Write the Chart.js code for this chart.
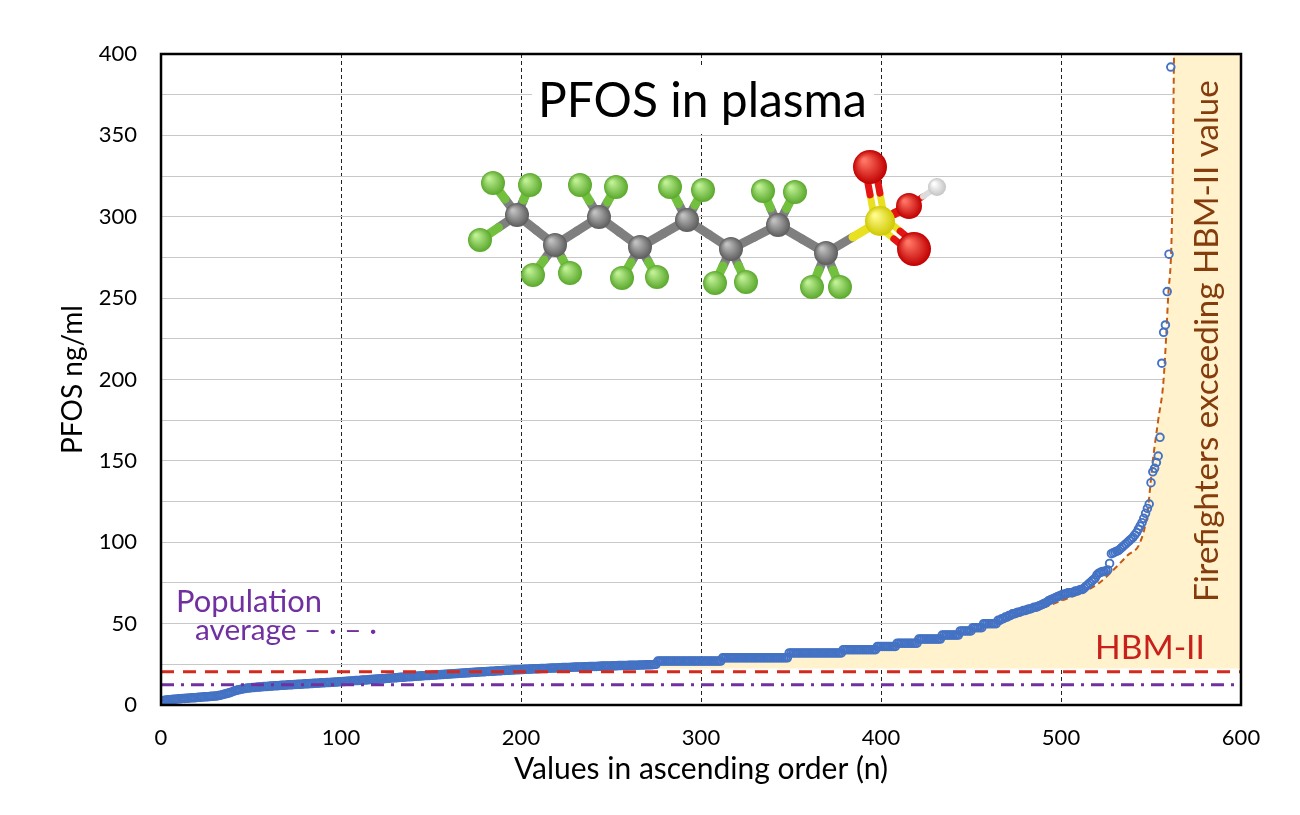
<!DOCTYPE html>
<html>
<head>
<meta charset="utf-8">
<title>PFOS in plasma</title>
<script src="https://cdn.jsdelivr.net/npm/chart.js@4.4.1/dist/chart.umd.min.js"></script>
<style>
  body { margin: 0; background: #fff; }
  #wrap { width: 1300px; height: 815px; }
</style>
</head>
<body>
<div id="wrap"><canvas id="chart"></canvas></div>
<script>
// PFOS values (ng/ml), sorted ascending, one per firefighter (rank = index)
const pfos = [
  1.5, 2.6, 2.9, 3.1, 3.2, 3.3, 3.4, 3.5, 3.6, 3.7, 3.8,
  3.9, 4.0, 4.0, 4.1, 4.2, 4.3, 4.4, 4.4, 4.5, 4.6,
  4.7, 4.8, 4.9, 5.0, 5.0, 5.1, 5.2, 5.3, 5.4, 5.5,
  5.6, 5.8, 6.0, 6.3, 6.6, 6.9, 7.2, 7.5,
  7.9, 8.3, 8.7, 9.0, 9.3, 9.6, 9.8, 10.0, 10.2, 10.4,
  10.5, 10.6, 10.7, 10.8, 10.9, 11.0, 11.1, 11.2, 11.3, 11.3,
  11.4, 11.5, 11.6, 11.7, 11.8, 11.9, 11.9, 12.0, 12.1, 12.2,
  12.2, 12.3, 12.4, 12.4, 12.5, 12.6, 12.6, 12.7, 12.8, 12.8,
  12.9, 13.0, 13.0, 13.1, 13.2, 13.2, 13.3, 13.4, 13.4, 13.5,
  13.6, 13.6, 13.7, 13.8, 13.8, 13.9, 14.0, 14.0, 14.1, 14.2,
  14.3, 14.3, 14.4, 14.5, 14.6, 14.6, 14.7, 14.8, 14.9, 15.0,
  15.0, 15.1, 15.2, 15.3, 15.4, 15.4, 15.5, 15.6, 15.7, 15.8,
  15.8, 15.9, 16.0, 16.1, 16.2, 16.2, 16.3, 16.4, 16.5, 16.6,
  16.6, 16.7, 16.8, 16.9, 17.0, 17.0, 17.1, 17.2, 17.3, 17.4,
  17.4, 17.5, 17.6, 17.7, 17.8, 17.8, 17.9, 18.0, 18.1, 18.1,
  18.2, 18.3, 18.3, 18.4, 18.5, 18.6, 18.6, 18.7, 18.8, 18.9,
  18.9, 19.0, 19.1, 19.2, 19.2, 19.3, 19.4, 19.5, 19.5, 19.6,
  19.7, 19.8, 19.8, 19.9, 20.0, 20.1, 20.1, 20.2, 20.3, 20.4,
  20.4, 20.5, 20.6, 20.6, 20.7, 20.8, 20.8, 20.9, 21.0, 21.0,
  21.1, 21.2, 21.2, 21.3, 21.4, 21.4, 21.5, 21.5, 21.6, 21.7,
  21.7, 21.8, 21.8, 21.9, 22.0, 22.0, 22.1, 22.1, 22.2, 22.2,
  22.3, 22.3, 22.4, 22.4, 22.5, 22.5, 22.6, 22.6, 22.7, 22.7,
  22.8, 22.8, 22.9, 22.9, 23.0, 23.0, 23.0, 23.1, 23.1, 23.2,
  23.2, 23.3, 23.3, 23.3, 23.4, 23.4, 23.5, 23.5, 23.5, 23.6,
  23.6, 23.7, 23.7, 23.7, 23.8, 23.8, 23.9, 23.9, 23.9, 24.0,
  24.0, 24.0, 24.1, 24.1, 24.1, 24.2, 24.2, 24.2, 24.3, 24.3,
  24.3, 24.4, 24.4, 24.4, 24.5, 24.5, 24.5, 24.6, 24.6, 24.6,
  24.7, 24.7, 24.7, 24.8, 24.8, 24.9, 25.0,
  27, 27, 27, 27, 27, 27, 27, 27, 27, 27, 27, 27,
  27, 27, 27, 27, 27, 27, 27, 27, 27, 27, 27, 27,
  27, 27, 27, 27, 27, 27, 27, 27, 27, 27, 27, 27,
  29, 29, 29, 29, 29, 29, 29, 29, 29, 29, 29, 29, 29,
  29, 29, 29, 29, 29, 29, 29, 29, 29, 29, 29, 29, 29,
  29, 29, 29, 29, 29, 29, 29, 29, 29, 29, 29,
  32, 32, 32, 32, 32, 32, 32, 32, 32, 32,
  32, 32, 32, 32, 32, 32, 32, 32, 32, 32,
  32, 32, 32, 32, 32, 32, 32, 32, 32, 32,
  34, 34, 34, 34, 34, 34, 34, 34, 34, 34,
  34, 34, 34, 34, 34, 34, 34, 34, 34,
  36, 36, 36, 36, 36, 36, 36, 36, 36, 36, 36,
  38, 38, 38, 38, 38, 38, 38, 38, 38, 38, 38, 38,
  40.5, 40.5, 40.5, 40.5, 40.5, 40.5, 40.5, 40.5, 40.5, 40.5, 40.5, 40.5, 40.5,
  43, 43, 43, 43, 43, 43, 43, 43, 43, 43,
  45.5, 45.5, 45.5, 45.5, 45.5, 45.5, 45.5,
  47.5, 47.5, 47.5, 47.5, 47.5, 47.5,
  50, 50, 50, 50, 50, 50, 50, 50,
  52, 52, 53, 53, 54, 54, 55, 55, 56, 56, 56.5,
  57, 57, 57.5, 58, 58, 58.5, 59, 59, 59.5, 60, 60, 60.5, 61, 61.5, 62, 62.5, 63,
  64, 64.5, 65, 65.5, 66, 66.5, 67, 67.5,
  68, 68, 68.5, 69, 69, 69, 69.5, 70, 70, 70.5, 71, 71,
  72, 73, 74, 75, 76, 77, 78, 80,
  81, 81.5, 82, 82, 82.5, 83, 87,
  93, 93.5, 94, 94.5, 95, 96, 97,
  98, 99, 100, 101, 102, 103, 104.5, 106, 108, 110, 112, 114.7, 117.8, 120.8, 123.5,
  136.6, 143.3, 145.4, 149, 153, 164.5, 210, 229, 233.5, 254, 277, 392
];

// fitted trend curve (orange dashed)
const trendX = [0, 50, 100, 150, 200, 250, 275, 300, 350, 400, 450, 480, 500, 520, 530, 537, 544, 548, 551, 554, 557, 559.5, 561.7, 562.8];
const trendY = [3, 10, 14, 18, 21, 24, 25, 27, 31, 35, 45, 56, 64, 74, 84, 92, 100, 118, 150, 175, 200, 250, 300, 400];

// reference levels (ng/ml)
const hbm2 = 20.5;
const popAverage = 12.5;

const xTicks = [0, 100, 200, 300, 400, 500, 600];
const yTicks = [0, 50, 100, 150, 200, 250, 300, 350, 400];

const FONT = 'Lato';

const pfosPoints = pfos.map((v, i) => ({ x: i, y: v }));
const trendPoints = trendX.map((x, i) => ({ x: x, y: trendY[i] }));
// shaded zone: above HBM-II, right of the trend curve
const zonePoints = trendPoints.filter(p => p.x >= 275).concat([{ x: 600, y: 400 }]);

// ---- molecule (decoration), canvas pixels ----
const atoms = {
  C1: ['C', 517, 215], C2: ['C', 555, 245], C3: ['C', 599, 217], C4: ['C', 640, 247],
  C5: ['C', 687, 220], C6: ['C', 731, 249], C7: ['C', 778, 225], C8: ['C', 826, 253],
  S: ['S', 880, 221], O1: ['O', 870, 167], O2: ['O', 914, 249], O3: ['O', 909, 206], H: ['H', 937, 187],
  F1: ['F', 493, 183], F2: ['F', 530, 185], F3: ['F', 480, 240],
  F4: ['F', 533, 275], F5: ['F', 570, 273],
  F6: ['F', 580, 185], F7: ['F', 616, 187],
  F8: ['F', 622, 278], F9: ['F', 657, 277],
  F10: ['F', 670, 187], F11: ['F', 703, 190],
  F12: ['F', 715, 283], F13: ['F', 746, 282],
  F14: ['F', 763, 191], F15: ['F', 795, 192],
  F16: ['F', 812, 287], F17: ['F', 840, 287]
};
const bonds = [
  ['C1', 'C2'], ['C2', 'C3'], ['C3', 'C4'], ['C4', 'C5'], ['C5', 'C6'], ['C6', 'C7'], ['C7', 'C8'], ['C8', 'S'],
  ['C1', 'F1'], ['C1', 'F2'], ['C1', 'F3'], ['C2', 'F4'], ['C2', 'F5'], ['C3', 'F6'], ['C3', 'F7'],
  ['C4', 'F8'], ['C4', 'F9'], ['C5', 'F10'], ['C5', 'F11'], ['C6', 'F12'], ['C6', 'F13'],
  ['C7', 'F14'], ['C7', 'F15'], ['C8', 'F16'], ['C8', 'F17'],
  ['S', 'O1', 2], ['S', 'O2', 2], ['S', 'O3'], ['O3', 'H']
];
const atomStyle = {
  C: { r: 12, dark: '#5c5c5c', light: '#c0c0c0', stick: '#7f7f7f' },
  F: { r: 12, dark: '#5aa82c', light: '#bff094', stick: '#72c03e' },
  S: { r: 15, dark: '#d0c800', light: '#fffb8a', stick: '#e8e020' },
  O: { r: 17, dark: '#c00000', light: '#ff7464', stick: '#e41414' },
  H: { r: 9, dark: '#c4c4c4', light: '#ffffff', stick: '#dcdcdc' }
};

function drawStick(ctx, a, b, off, width) {
  const [ta, xa, ya] = atoms[a];
  const [tb, xb, yb] = atoms[b];
  const len = Math.hypot(xb - xa, yb - ya);
  const nx = -(yb - ya) / len * off;
  const ny = (xb - xa) / len * off;
  const mx = (xa + xb) / 2, my = (ya + yb) / 2;
  ctx.lineWidth = width;
  ctx.lineCap = 'round';
  ctx.strokeStyle = atomStyle[ta].stick;
  ctx.beginPath(); ctx.moveTo(xa + nx, ya + ny); ctx.lineTo(mx + nx, my + ny); ctx.stroke();
  ctx.strokeStyle = atomStyle[tb].stick;
  ctx.beginPath(); ctx.moveTo(mx + nx, my + ny); ctx.lineTo(xb + nx, yb + ny); ctx.stroke();
}

function drawBall(ctx, key) {
  const [t, x, y] = atoms[key];
  const st = atomStyle[t];
  const r = key === 'O3' ? 13 : st.r;
  const g = ctx.createRadialGradient(x - r * 0.35, y - r * 0.4, r * 0.1, x, y, r);
  g.addColorStop(0, st.light);
  g.addColorStop(1, st.dark);
  ctx.fillStyle = g;
  ctx.beginPath(); ctx.arc(x, y, r, 0, Math.PI * 2); ctx.fill();
}

function drawMolecule(ctx) {
  ctx.save();
  bonds.forEach(b => {
    if (b[2] === 2) {
      drawStick(ctx, b[0], b[1], -5, 7);
      drawStick(ctx, b[0], b[1], 5, 7);
    } else {
      drawStick(ctx, b[0], b[1], 0, b[0] === 'O3' ? 6 : 9);
    }
  });
  Object.keys(atoms).filter(k => atoms[k][0] !== 'C').forEach(k => drawBall(ctx, k));
  Object.keys(atoms).filter(k => atoms[k][0] === 'C').forEach(k => drawBall(ctx, k));
  ctx.restore();
}

// text sized to a given width
function fitText(ctx, text, x, y, width, weight, color, align) {
  let size = 40;
  ctx.font = weight + ' ' + size + 'px ' + FONT;
  size = size * width / ctx.measureText(text).width;
  ctx.font = weight + ' ' + size + 'px ' + FONT;
  ctx.fillStyle = color;
  ctx.textAlign = align || 'left';
  ctx.textBaseline = 'alphabetic';
  ctx.fillText(text, x, y);
}

const decorations = {
  id: 'decorations',
  afterDraw(chart) {
    const ctx = chart.ctx;
    const a = chart.chartArea;
    ctx.save();
    // plot frame
    ctx.strokeStyle = '#000';
    ctx.lineWidth = 2.5;
    ctx.strokeRect(a.left, a.top, a.right - a.left, a.bottom - a.top);

    // title with white box
    ctx.fillStyle = '#fff';
    ctx.fillRect(532, 66, 342, 68);
    fitText(ctx, 'PFOS in plasma', 538, 117, 329, 'normal', '#000');

    drawMolecule(ctx);

    fitText(ctx, 'Population', 176, 612, 146, 'normal', '#7030A0');
    fitText(ctx, 'average \u2013 \u00b7 \u2013 \u00b7', 195, 640, 182, 'normal', '#7030A0');

    fitText(ctx, 'HBM-II', 1095, 659, 110, 'normal', '#C8201A');

    ctx.translate(1218, 602);
    ctx.rotate(-Math.PI / 2);
    fitText(ctx, 'Firefighters exceeding HBM-II value', 0, 0, 522, 'normal', '#843C0C');
    ctx.restore();
  }
};

const ctx = document.getElementById('chart').getContext('2d');

new Chart(ctx, {
  type: 'scatter',
  data: {
    datasets: [
      {
        label: 'HBM-II',
        type: 'line',
        data: [{ x: 0, y: hbm2 }, { x: 600, y: hbm2 }],
        borderColor: '#D42A1E',
        borderWidth: 3,
        borderDash: [13, 9],
        pointRadius: 0,
        order: 0
      },
      {
        label: 'Population average',
        type: 'line',
        data: [{ x: 0, y: popAverage }, { x: 600, y: popAverage }],
        borderColor: '#7030A0',
        borderWidth: 3,
        borderDash: [13, 7, 3, 7],
        pointRadius: 0,
        order: 0
      },
      {
        label: 'PFOS',
        data: pfosPoints,
        showLine: false,
        pointRadius: 3.8,
        pointBorderWidth: 1.9,
        pointBorderColor: '#4472C4',
        pointBackgroundColor: 'rgba(255,255,255,0)',
        order: 1
      },
      {
        label: 'Trend',
        type: 'line',
        data: trendPoints,
        borderColor: '#C55A11',
        borderWidth: 2,
        borderDash: [6, 4],
        cubicInterpolationMode: 'monotone',
        pointRadius: 0,
        fill: false,
        order: 2
      },
      {
        label: 'Zone',
        type: 'line',
        data: zonePoints,
        borderWidth: 0,
        borderColor: 'rgba(0,0,0,0)',
        backgroundColor: '#FFF2CC',
        cubicInterpolationMode: 'monotone',
        pointRadius: 0,
        fill: { value: hbm2 + 2 },
        order: 3
      }
    ]
  },
  options: {
    responsive: true,
    maintainAspectRatio: false,
    animation: false,
    layout: {
      padding: { top: 54, right: 59, left: 0, bottom: 0 }
    },
    plugins: {
      legend: { display: false },
      tooltip: { enabled: false }
    },
    scales: {
      x: {
        type: 'linear',
        min: 0,
        max: 600,
        z: 1,
        afterFit: s => { s.height = 110; },
        afterBuildTicks: s => { s.ticks = xTicks.map(v => ({ value: v })); },
        border: { display: false, dash: [4, 3] },
        grid: {
          drawTicks: false,
          lineWidth: 1,
          color: c => (c.tick && c.tick.value > 0 && c.tick.value < 600) ? '#222' : 'rgba(0,0,0,0)'
        },
        ticks: {
          padding: 20,
          color: '#000',
          font: { family: FONT, size: 22 }
        },
        title: {
          display: true,
          text: 'Values in ascending order (n)',
          color: '#000',
          font: { family: FONT, size: 30 },
          padding: { bottom: 28 }
        }
      },
      y: {
        min: 0,
        max: 400,
        z: 1,
        afterFit: s => { s.width = 161; },
        border: { display: false },
        grid: {
          drawTicks: false,
          lineWidth: 1,
          color: '#c8c8c8'
        },
        ticks: {
          stepSize: 25,
          autoSkip: false,
          padding: 24,
          color: '#000',
          font: { family: FONT, size: 22 },
          callback: v => (yTicks.includes(v) ? v : '')
        },
        title: {
          display: true,
          text: 'PFOS ng/ml',
          color: '#000',
          font: { family: FONT, size: 28 },
          padding: { top: 56 }
        }
      }
    }
  },
  plugins: [decorations]
});
</script>
</body>
</html>
